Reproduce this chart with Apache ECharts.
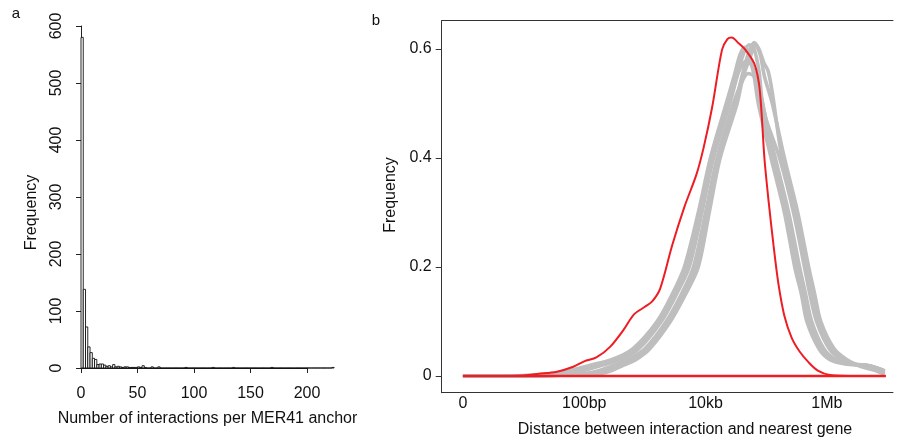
<!DOCTYPE html>
<html><head><meta charset="utf-8">
<script src="https://cdn.jsdelivr.net/npm/echarts@6/dist/echarts.min.js"></script>
<style>html,body{margin:0;padding:0;background:#fff}#c{width:899px;height:443px}</style>
</head><body><div id="c"></div>
<script>
// ---- Panel a: histogram (bin width 2, bins start at 0) ----
const binWidth = 2;
const histCounts = [
  580,138,72,37,27,17,15,6,7,7, 5,3,4,2,6,2,3,2,1,2,
  2,1,1,1,1,2,1,4,1,0, 0,2,0,0,2,0,0,0,0,0,
  0,0,0,0,0,0,1,0,0,0, 0,0,0,0,0,0,0,0,1,0,
  0,0,0,0,0,0,0,1,0,0, 0,0,0,0,0,0,0,0,0,0,
  0,0,0,0,1,0,0,0,0,0, 0,0,0,0,0,0,0,0,0,0,
  0,0,0,0,0,0,0,0,0,0, 0,1
];
const histXTicks = [0, 50, 100, 150, 200];
const histYTicks = [0, 100, 200, 300, 400, 500, 600];

// ---- Panel b: density curves, x = log10(distance + 1) ----
const distTickValues = [0, 2, 4, 6];
const distTickLabels = ['0', '100bp', '10kb', '1Mb'];
const freqTicks = [0, 0.2, 0.4, 0.6];

const observed = [[0,0],[0.5,0],[1.0,0.001],[1.25,0.004],[1.55,0.008],[1.82,0.017],[2.0,0.027],[2.2,0.034],[2.43,0.054],
  [2.65,0.085],[2.82,0.113],[3.0,0.127],[3.12,0.137],[3.25,0.16],[3.45,0.24],[3.65,0.31],[3.85,0.37],[3.97,0.42],
  [4.11,0.494],[4.27,0.598],[4.36,0.618],[4.43,0.621],[4.55,0.61],[4.66,0.598],[4.8,0.574],[4.88,0.537],[4.92,0.488],
  [4.97,0.40],[5.04,0.32],[5.12,0.24],[5.2,0.17],[5.3,0.11],[5.42,0.07],[5.55,0.045],[5.7,0.025],[5.85,0.01],
  [6.05,0.002],[6.5,0],[6.97,0]];
const observedBase = [[0,0],[6.97,0]];

const perm1 = [[0,0],[1.0,0.001],[1.5,0.005],[1.75,0.01],[2.1,0.02],[2.45,0.03],[2.8,0.05],[3.2,0.1],[3.45,0.15],[3.65,0.2],
  [3.88,0.3],[4.08,0.4],[4.34,0.5],[4.47,0.55],[4.57,0.59],[4.65,0.603],[4.72,0.59],[4.8,0.55],[4.87,0.5],[5.08,0.4],
  [5.3,0.3],[5.47,0.2],[5.58,0.15],[5.67,0.1],[5.87,0.05],[6.05,0.03],[6.3,0.022],[6.6,0.02],[6.85,0.014],[6.95,0.008]];
const perm2 = [[0,0],[1.1,0.001],[1.62,0.005],[1.88,0.01],[2.2,0.02],[2.52,0.03],[2.85,0.05],[3.23,0.1],[3.48,0.15],[3.69,0.2],
  [3.91,0.3],[4.1,0.4],[4.37,0.5],[4.5,0.545],[4.6,0.57],[4.68,0.578],[4.76,0.57],[4.84,0.54],[4.9,0.5],[5.12,0.4],
  [5.33,0.3],[5.51,0.2],[5.61,0.15],[5.71,0.1],[5.91,0.05],[6.1,0.03],[6.35,0.022],[6.65,0.02],[6.9,0.012],[6.95,0.009]];
const perm3 = [[0,0],[1.2,0.001],[1.75,0.005],[2.0,0.01],[2.3,0.02],[2.6,0.03],[2.9,0.05],[3.27,0.1],[3.52,0.15],[3.73,0.2],
  [3.94,0.3],[4.13,0.4],[4.4,0.5],[4.52,0.55],[4.62,0.59],[4.72,0.608],[4.8,0.6],[4.88,0.56],[4.94,0.5],[5.15,0.4],
  [5.37,0.3],[5.55,0.2],[5.65,0.15],[5.75,0.1],[5.95,0.05],[6.15,0.03],[6.4,0.022],[6.7,0.019],[6.95,0.01]];
const perm4 = [[0,0],[1.4,0.001],[2.05,0.005],[2.25,0.01],[2.5,0.02],[2.72,0.03],[3.0,0.05],[3.35,0.1],[3.6,0.15],[3.8,0.2],
  [4.0,0.3],[4.19,0.4],[4.46,0.5],[4.6,0.54],[4.7,0.555],[4.8,0.55],[4.92,0.51],[5.0,0.47],[5.22,0.4],[5.45,0.3],
  [5.63,0.2],[5.72,0.15],[5.83,0.1],[6.04,0.05],[6.25,0.03],[6.5,0.02],[6.8,0.014],[6.95,0.006]];
const perm5 = [[0,0],[1.45,0.001],[2.17,0.005],[2.35,0.01],[2.58,0.02],[2.79,0.03],[3.04,0.05],[3.39,0.1],[3.64,0.15],[3.84,0.2],
  [4.03,0.3],[4.22,0.4],[4.49,0.5],[4.6,0.55],[4.7,0.59],[4.8,0.612],[4.88,0.6],[4.96,0.575],[5.03,0.56],[5.1,0.52],
  [5.26,0.4],[5.48,0.3],[5.66,0.2],[5.76,0.15],[5.86,0.1],[6.08,0.05],[6.3,0.03],[6.52,0.02],[6.8,0.012],[6.95,0.004]];
const perm6 = [[0,0],[1.5,0.001],[2.3,0.005],[2.45,0.01],[2.65,0.02],[2.85,0.03],[3.08,0.05],[3.42,0.1],[3.67,0.15],[3.88,0.2],
  [4.06,0.3],[4.24,0.4],[4.52,0.5],[4.62,0.55],[4.72,0.58],[4.82,0.607],[4.9,0.59],[4.97,0.55],[5.1,0.5],[5.3,0.4],
  [5.52,0.3],[5.7,0.2],[5.8,0.15],[5.9,0.1],[6.12,0.05],[6.33,0.03],[6.55,0.018],[6.8,0.01],[6.95,0.003]];
const permCurves = [perm1, perm2, perm3, perm4, perm5, perm6];

// ---- build ----
const FONT = '"Liberation Sans", Arial, sans-serif';
const histData = histCounts.map((c, k) => [k * binWidth, (k + 1) * binWidth, c]);
const chart = echarts.init(document.getElementById('c'), null, {renderer: 'canvas'});

const greySeries = permCurves.map(d => ({
  type: 'line', xAxisIndex: 2, yAxisIndex: 2, data: d, showSymbol: false, smooth: 0.3,
  lineStyle: {color: '#bebebe', width: 3.6}, z: 2, silent: true
}));

chart.setOption({
  animation: false,
  backgroundColor: '#fff',
  textStyle: {fontFamily: FONT},
  grid: [
    {left: 81, top: 26, width: 263.3, height: 342},
    {left: 81, top: 26, width: 226, height: 342},
    {left: 441.7, top: 20.7, width: 451.3, height: 372}
  ],
  xAxis: [
    {type: 'value', gridIndex: 0, min: 0, max: 233, show: false},
    {type: 'value', gridIndex: 1, min: 0, max: 200, interval: 50, offset: 12,
      axisLine: {show: true, lineStyle: {color: '#222', width: 1}},
      axisTick: {show: true, length: 5, lineStyle: {color: '#222'}},
      axisLabel: {fontSize: 16, color: '#111', margin: 6, fontFamily: FONT,
        customValues: histXTicks},
      splitLine: {show: false}},
    {type: 'value', gridIndex: 2, min: -0.35, max: 7.09,
      axisLine: {show: true, onZero: false, lineStyle: {color: '#333', width: 1}},
      axisTick: {show: false},
      axisLabel: {fontSize: 16, color: '#111', margin: 3, fontFamily: FONT,
        customValues: distTickValues,
        formatter: v => distTickLabels[distTickValues.indexOf(v)] ?? ''},
      splitLine: {show: false}},
    {type: 'value', gridIndex: 2, position: 'top', min: -0.35, max: 7.09,
      axisLine: {show: true, onZero: false, lineStyle: {color: '#333', width: 1}},
      axisTick: {show: false}, axisLabel: {show: false}, splitLine: {show: false}}
  ],
  yAxis: [
    {type: 'value', gridIndex: 0, min: 0, max: 600, show: false},
    {type: 'value', gridIndex: 1, min: 0, max: 600, interval: 100, offset: 11,
      axisLine: {show: true, lineStyle: {color: '#222', width: 1}},
      axisTick: {show: true, length: 5, lineStyle: {color: '#222'}},
      axisLabel: {fontSize: 16, color: '#111', margin: 5, rotate: 90, fontFamily: FONT,
        customValues: histYTicks},
      splitLine: {show: false}},
    {type: 'value', gridIndex: 2, min: -0.0306, max: 0.652,
      axisLine: {show: true, onZero: false, lineStyle: {color: '#333', width: 1}},
      axisTick: {show: true, length: 6, customValues: freqTicks, lineStyle: {color: '#333'}},
      axisLabel: {fontSize: 16, color: '#111', margin: 10, fontFamily: FONT,
        customValues: freqTicks, formatter: v => String(v)},
      splitLine: {show: false}}
  ],
  series: [
    {type: 'custom', xAxisIndex: 0, yAxisIndex: 0, data: histData, silent: true,
      renderItem: (params, api) => {
        const p0 = api.coord([api.value(0), api.value(2)]);
        const p1 = api.coord([api.value(1), 0]);
        return {type: 'rect', shape: {x: p0[0], y: p0[1], width: p1[0] - p0[0], height: p1[1] - p0[1]},
          style: {fill: '#fff', stroke: '#111', lineWidth: 0.9}};
      }},
    ...greySeries,
    {type: 'line', xAxisIndex: 2, yAxisIndex: 2, data: observed, showSymbol: false, smooth: 0.3,
      lineStyle: {color: '#ee1d23', width: 2}, z: 4, silent: true},
    {type: 'line', xAxisIndex: 2, yAxisIndex: 2, data: observedBase, showSymbol: false,
      lineStyle: {color: '#ee1d23', width: 2.5}, z: 5, silent: true}
  ],
  graphic: [
    {type: 'text', x: 16, y: 13.6, style: {text: 'a', font: '15px ' + FONT, fill: '#111', align: 'center', verticalAlign: 'middle'}},
    {type: 'text', x: 376, y: 21, style: {text: 'b', font: '15px ' + FONT, fill: '#111', align: 'center', verticalAlign: 'middle'}},
    {type: 'text', x: 32, y: 212.5, rotation: Math.PI / 2, style: {text: 'Frequency', font: '16px ' + FONT, fill: '#111', align: 'center', verticalAlign: 'middle'}},
    {type: 'text', x: 207.5, y: 419, style: {text: 'Number of interactions per MER41 anchor', font: '16px ' + FONT, fill: '#111', align: 'center', verticalAlign: 'middle'}},
    {type: 'text', x: 391, y: 195, rotation: Math.PI / 2, style: {text: 'Frequency', font: '16px ' + FONT, fill: '#111', align: 'center', verticalAlign: 'middle'}},
    {type: 'text', x: 685, y: 430, style: {text: 'Distance between interaction and nearest gene', font: '16px ' + FONT, fill: '#111', align: 'center', verticalAlign: 'middle'}}
  ]
});
</script></body></html>
